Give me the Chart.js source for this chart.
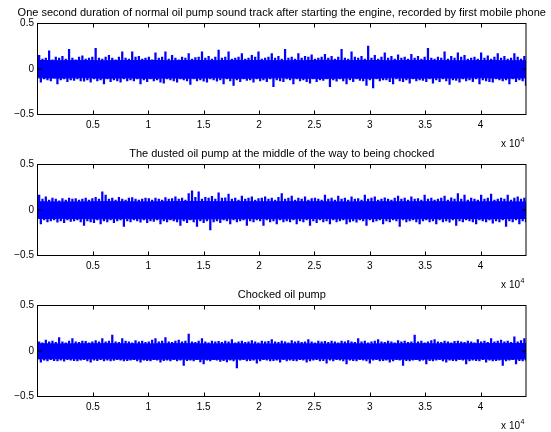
<!DOCTYPE html>
<html><head><meta charset="utf-8">
<script src="https://cdn.jsdelivr.net/npm/chart.js@4.4.0/dist/chart.umd.min.js"></script>
<style>
html,body{margin:0;padding:0;background:#fff;}
#wrap{position:relative;width:551px;height:432px;overflow:hidden;background:#fff;}
.pane{position:absolute;left:0;width:551px;height:150px;}
</style></head><body>
<div id="wrap">
<div class="pane" style="top:0px"><canvas id="c0" width="551" height="150"></canvas></div>
<div class="pane" style="top:141px"><canvas id="c1" width="551" height="150"></canvas></div>
<div class="pane" style="top:282px"><canvas id="c2" width="551" height="150"></canvas></div>
</div>
<script>
const titles = [
  'One second duration of normal oil pump sound track after starting the engine, recorded by first mobile phone',
  'The dusted oil pump at the middle of the way to being chocked',
  'Chocked oil pump'
];
const xTickValues = [5000,10000,15000,20000,25000,30000,35000,40000];
const xTickLabels = ['0.5','1','1.5','2','2.5','3','3.5','4'];
const yTickValues = [-0.5,0,0.5];
const yTickLabels = ['\u22120.5','0','0.5'];
const xExponent = '4';
const nSamples = 44100;

// dense core band envelope, every 2000 samples
const coreX = [0,2000,4000,6000,8000,10000,12000,14000,16000,18000,20000,22000,24000,26000,28000,30000,32000,34000,36000,38000,40000,42000,44000,44100];
const core1Upper = [0.094,0.091,0.093,0.09,0.093,0.095,0.091,0.094,0.092,0.095,0.093,0.09,0.093,0.096,0.092,0.094,0.091,0.095,0.093,0.09,0.093,0.092,0.09,0.093];
const core1Lower = [-0.097,-0.1,-0.096,-0.101,-0.098,-0.102,-0.099,-0.101,-0.097,-0.102,-0.1,-0.097,-0.101,-0.103,-0.099,-0.102,-0.097,-0.101,-0.098,-0.1,-0.097,-0.101,-0.098,-0.102];
const core2Upper = [0.09,0.088,0.089,0.092,0.09,0.089,0.092,0.094,0.091,0.092,0.09,0.091,0.092,0.09,0.089,0.091,0.09,0.09,0.092,0.089,0.09,0.09,0.088,0.089];
const core2Lower = [-0.094,-0.092,-0.095,-0.097,-0.094,-0.096,-0.098,-0.1,-0.097,-0.096,-0.094,-0.097,-0.095,-0.094,-0.097,-0.095,-0.094,-0.096,-0.095,-0.094,-0.096,-0.095,-0.093,-0.094];
const core3Upper = [0.08,0.078,0.079,0.081,0.079,0.078,0.081,0.08,0.078,0.079,0.077,0.078,0.079,0.078,0.08,0.078,0.079,0.081,0.079,0.08,0.081,0.083,0.082,0.083];
const core3Lower = [-0.087,-0.085,-0.087,-0.086,-0.088,-0.09,-0.089,-0.09,-0.091,-0.089,-0.087,-0.088,-0.087,-0.086,-0.088,-0.087,-0.089,-0.09,-0.088,-0.089,-0.087,-0.09,-0.088,-0.089];

// local peak amplitudes, one per 300-sample window (upper peaks start at sample 150, lower at 300)
const peakStep = 300;
const upStart = 150;
const downStart = 300;
const peaks1Up = [
0.15,0.11,0.12,0.20,0.10,0.13,0.12,0.14,0.11,0.215,
0.12,0.10,0.13,0.145,0.11,0.12,0.13,0.226,0.12,0.11,
0.13,0.15,0.12,0.10,0.13,0.189,0.12,0.11,0.189,0.13,
0.14,0.11,0.12,0.13,0.10,0.178,0.12,0.13,0.189,0.11,
0.15,0.12,0.10,0.13,0.12,0.17,0.11,0.125,0.13,0.189,
0.12,0.14,0.11,0.13,0.207,0.12,0.13,0.189,0.11,0.12,
0.13,0.17,0.11,0.12,0.15,0.13,0.189,0.11,0.12,0.13,
0.17,0.12,0.14,0.11,0.215,0.12,0.13,0.11,0.17,0.12,
0.14,0.13,0.155,0.11,0.12,0.13,0.16,0.12,0.14,0.11,
0.13,0.215,0.12,0.11,0.189,0.13,0.12,0.14,0.11,0.252,
0.12,0.15,0.11,0.13,0.178,0.12,0.14,0.11,0.155,0.12,
0.13,0.11,0.16,0.12,0.14,0.11,0.13,0.226,0.12,0.11,
0.13,0.12,0.189,0.11,0.14,0.12,0.178,0.13,0.15,0.11,
0.12,0.13,0.11,0.178,0.12,0.145,0.11,0.13,0.17,0.12,
0.14,0.11,0.12,0.17,0.13,0.11,0.14];
const peaks1Down = [
-0.144,-0.11,-0.12,-0.13,-0.10,-0.163,-0.12,-0.11,-0.14,-0.12,
-0.125,-0.11,-0.13,-0.135,-0.12,-0.144,-0.11,-0.13,-0.12,-0.163,
-0.11,-0.14,-0.12,-0.13,-0.144,-0.11,-0.13,-0.12,-0.13,-0.11,
-0.163,-0.12,-0.14,-0.11,-0.13,-0.12,-0.145,-0.156,-0.11,-0.12,
-0.13,-0.145,-0.11,-0.12,-0.13,-0.17,-0.11,-0.13,-0.12,-0.135,
-0.144,-0.11,-0.12,-0.135,-0.12,-0.163,-0.11,-0.13,-0.181,-0.12,
-0.14,-0.11,-0.125,-0.12,-0.144,-0.11,-0.13,-0.12,-0.14,-0.11,
-0.193,-0.12,-0.13,-0.14,-0.11,-0.12,-0.163,-0.11,-0.13,-0.12,
-0.14,-0.156,-0.11,-0.14,-0.12,-0.125,-0.11,-0.193,-0.12,-0.135,
-0.11,-0.13,-0.163,-0.12,-0.14,-0.11,-0.125,-0.13,-0.181,-0.12,
-0.207,-0.11,-0.13,-0.12,-0.12,-0.14,-0.163,-0.11,-0.13,-0.14,
-0.12,-0.156,-0.11,-0.13,-0.12,-0.125,-0.14,-0.11,-0.156,-0.12,
-0.14,-0.11,-0.13,-0.17,-0.12,-0.125,-0.144,-0.11,-0.13,-0.12,
-0.14,-0.11,-0.163,-0.12,-0.13,-0.14,-0.144,-0.11,-0.12,-0.13,
-0.12,-0.163,-0.11,-0.14,-0.12,-0.13,-0.181];
const peaks2Up = [
0.163,0.12,0.144,0.11,0.13,0.12,0.10,0.125,0.11,0.13,
0.12,0.126,0.11,0.12,0.13,0.11,0.125,0.14,0.12,0.2,
0.163,0.12,0.13,0.11,0.14,0.12,0.11,0.13,0.137,0.12,
0.11,0.12,0.13,0.126,0.11,0.13,0.12,0.11,0.137,0.12,
0.125,0.144,0.12,0.13,0.11,0.181,0.211,0.14,0.2,0.12,
0.14,0.13,0.15,0.12,0.189,0.13,0.135,0.174,0.12,0.13,
0.11,0.152,0.12,0.13,0.144,0.11,0.125,0.13,0.144,0.12,
0.13,0.11,0.14,0.181,0.12,0.13,0.152,0.11,0.13,0.12,
0.144,0.11,0.125,0.13,0.12,0.11,0.163,0.12,0.13,0.11,
0.152,0.12,0.13,0.11,0.144,0.12,0.125,0.11,0.163,0.12,
0.13,0.144,0.11,0.12,0.135,0.12,0.11,0.13,0.152,0.12,
0.13,0.11,0.144,0.12,0.125,0.11,0.163,0.12,0.13,0.11,
0.12,0.13,0.152,0.11,0.135,0.12,0.181,0.12,0.163,0.11,
0.13,0.12,0.11,0.163,0.12,0.13,0.174,0.11,0.12,0.13,
0.12,0.163,0.11,0.13,0.144,0.12,0.13];
const peaks2Down = [
-0.152,-0.11,-0.13,-0.12,-0.11,-0.133,-0.12,-0.14,-0.11,-0.125,
-0.12,-0.11,-0.13,-0.17,-0.12,-0.13,-0.14,-0.11,-0.152,-0.12,
-0.13,-0.11,-0.14,-0.12,-0.11,-0.181,-0.12,-0.13,-0.11,-0.12,
-0.133,-0.11,-0.14,-0.12,-0.125,-0.11,-0.152,-0.12,-0.13,-0.11,
-0.12,-0.13,-0.17,-0.12,-0.14,-0.11,-0.13,-0.181,-0.12,-0.14,
-0.12,-0.219,-0.13,-0.12,-0.14,-0.11,-0.12,-0.152,-0.11,-0.13,
-0.12,-0.11,-0.17,-0.12,-0.13,-0.11,-0.12,-0.17,-0.11,-0.13,
-0.12,-0.152,-0.11,-0.13,-0.12,-0.13,-0.11,-0.152,-0.12,-0.13,
-0.11,-0.17,-0.12,-0.14,-0.11,-0.13,-0.12,-0.152,-0.11,-0.13,
-0.12,-0.11,-0.152,-0.13,-0.12,-0.135,-0.11,-0.12,-0.17,-0.11,
-0.13,-0.12,-0.11,-0.152,-0.12,-0.13,-0.11,-0.12,-0.181,-0.11,
-0.13,-0.12,-0.11,-0.13,-0.152,-0.12,-0.11,-0.13,-0.12,-0.152,
-0.11,-0.13,-0.12,-0.135,-0.11,-0.17,-0.12,-0.13,-0.11,-0.12,
-0.13,-0.152,-0.11,-0.12,-0.13,-0.11,-0.144,-0.12,-0.13,-0.11,
-0.181,-0.12,-0.13,-0.11,-0.152,-0.12,-0.13];
const peaks3Up = [
0.10,0.09,0.119,0.10,0.11,0.095,0.148,0.10,0.09,0.11,
0.137,0.10,0.095,0.11,0.105,0.09,0.10,0.115,0.10,0.137,
0.10,0.11,0.174,0.10,0.095,0.137,0.11,0.10,0.09,0.115,
0.10,0.11,0.095,0.10,0.12,0.137,0.10,0.11,0.148,0.10,
0.095,0.11,0.12,0.10,0.11,0.185,0.10,0.095,0.11,0.137,
0.10,0.09,0.11,0.10,0.105,0.095,0.11,0.10,0.126,0.09,
0.10,0.11,0.095,0.10,0.115,0.10,0.09,0.11,0.10,0.105,
0.126,0.10,0.095,0.11,0.10,0.09,0.115,0.10,0.11,0.095,
0.10,0.126,0.10,0.09,0.11,0.10,0.105,0.095,0.11,0.10,
0.09,0.11,0.10,0.115,0.10,0.095,0.137,0.10,0.11,0.09,
0.10,0.11,0.126,0.10,0.095,0.11,0.10,0.09,0.115,0.10,
0.11,0.095,0.10,0.174,0.10,0.11,0.09,0.10,0.115,0.126,
0.10,0.095,0.11,0.10,0.09,0.105,0.11,0.10,0.095,0.11,
0.10,0.09,0.126,0.10,0.11,0.095,0.137,0.10,0.11,0.12,
0.10,0.11,0.095,0.156,0.10,0.115,0.137];
const peaks3Down = [
-0.122,-0.10,-0.11,-0.095,-0.105,-0.11,-0.10,-0.111,-0.095,-0.10,
-0.105,-0.11,-0.10,-0.095,-0.11,-0.122,-0.10,-0.105,-0.095,-0.11,
-0.10,-0.11,-0.104,-0.095,-0.10,-0.11,-0.105,-0.10,-0.095,-0.11,
-0.122,-0.10,-0.105,-0.11,-0.095,-0.10,-0.122,-0.105,-0.10,-0.11,
-0.095,-0.11,-0.10,-0.159,-0.105,-0.10,-0.11,-0.095,-0.12,-0.141,
-0.10,-0.11,-0.095,-0.10,-0.115,-0.105,-0.12,-0.10,-0.11,-0.185,
-0.10,-0.095,-0.11,-0.105,-0.10,-0.133,-0.11,-0.095,-0.10,-0.11,
-0.105,-0.10,-0.122,-0.095,-0.11,-0.10,-0.105,-0.11,-0.095,-0.10,
-0.122,-0.11,-0.10,-0.095,-0.11,-0.105,-0.133,-0.10,-0.11,-0.095,
-0.10,-0.11,-0.141,-0.10,-0.105,-0.11,-0.095,-0.10,-0.11,-0.133,
-0.10,-0.095,-0.11,-0.105,-0.10,-0.122,-0.11,-0.095,-0.10,-0.159,
-0.105,-0.11,-0.10,-0.095,-0.11,-0.10,-0.141,-0.105,-0.11,-0.10,
-0.095,-0.11,-0.122,-0.10,-0.105,-0.11,-0.095,-0.10,-0.141,-0.11,
-0.10,-0.105,-0.11,-0.095,-0.122,-0.10,-0.11,-0.105,-0.10,-0.159,
-0.11,-0.10,-0.095,-0.141,-0.105,-0.11,-0.10];

const FONT = '"Liberation Sans", Arial, Helvetica, sans-serif';
Chart.defaults.font.family = FONT;
Chart.defaults.color = '#000';
const BLUE = '#0000ff';

const matlabAxes = {
  id: 'matlabAxes',
  afterDraw(chart, args, opts) {
    const {ctx, chartArea: a, scales: {x, y}} = chart;
    ctx.save();
    ctx.strokeStyle = '#000';
    ctx.lineWidth = 1;
    ctx.beginPath();
    xTickValues.forEach(v => {
      const px = Math.round(x.getPixelForValue(v)) + 0.5;
      ctx.moveTo(px, a.bottom); ctx.lineTo(px, a.bottom - 4);
      ctx.moveTo(px, a.top); ctx.lineTo(px, a.top + 4);
    });
    yTickValues.forEach(v => {
      const py = y.getPixelForValue(v);
      ctx.moveTo(a.left, py); ctx.lineTo(a.left + 4, py);
      ctx.moveTo(a.right, py); ctx.lineTo(a.right - 4, py);
    });
    ctx.stroke();
    ctx.strokeRect(a.left, a.top, a.right - a.left, a.bottom - a.top);
    ctx.fillStyle = '#000';
    ctx.font = '11px ' + FONT;
    ctx.textAlign = 'center';
    ctx.textBaseline = 'alphabetic';
    ctx.fillText(opts.title, (a.left + a.right) / 2, a.top - 8);
    ctx.font = '10px ' + FONT;
    ctx.textAlign = 'right';
    ctx.fillText('x 10', a.right - 6, a.bottom + 32);
    ctx.font = '7px ' + FONT;
    ctx.textAlign = 'left';
    ctx.fillText(xExponent, a.right - 5.5, a.bottom + 27);
    ctx.restore();
  }
};

function toPoints(xs, ys) { return xs.map((x, i) => ({x: x, y: ys[i]})); }
function toBars(start, amps) { return amps.map((v, i) => ({x: start + i * peakStep, y: v > 0 ? [0, v] : [v, 0]})); }

function makeChart(id, title, coreUp, coreLo, pkUp, pkDown) {
  const lineDs = (d) => ({type: 'line', data: d, borderColor: BLUE, backgroundColor: BLUE, borderWidth: 1, pointRadius: 0, fill: 'origin', tension: 0});
  const barDs = (d) => ({type: 'bar', data: d, backgroundColor: BLUE, borderWidth: 0, barThickness: 1.6, grouped: false});
  new Chart(document.getElementById(id), {
    type: 'line',
    data: {datasets: [
      lineDs(toPoints(coreX, coreUp)),
      lineDs(toPoints(coreX, coreLo)),
      barDs(toBars(upStart, pkUp)),
      barDs(toBars(downStart, pkDown))
    ]},
    options: {
      responsive: false,
      animation: false,
      events: [],
      layout: {padding: {top: 23.5, right: 25, left: 0, bottom: 0}},
      plugins: {legend: {display: false}, tooltip: {enabled: false}, title: {display: false}, matlabAxes: {title: title}},
      scales: {
        x: {
          type: 'linear', min: 0, max: nSamples, offset: false,
          grid: {display: false, drawTicks: false, offset: false},
          border: {display: false},
          afterBuildTicks: s => { s.ticks = xTickValues.map(v => ({value: v})); },
          afterFit: s => { s.height = 35.5; },
          ticks: {
            callback: v => { const i = xTickValues.indexOf(v); return i >= 0 ? xTickLabels[i] : ''; },
            font: {size: 10}, color: '#000', padding: 5, maxRotation: 0, autoSkip: false
          }
        },
        y: {
          type: 'linear', min: -0.5, max: 0.5,
          grid: {display: false, drawTicks: false},
          border: {display: false},
          afterBuildTicks: s => { s.ticks = yTickValues.map(v => ({value: v})); },
          afterFit: s => { s.width = 37.5; },
          ticks: {
            callback: v => { const i = yTickValues.indexOf(v); return i >= 0 ? yTickLabels[i] : ''; },
            font: {size: 10}, color: '#000', padding: 3.5, autoSkip: false
          }
        }
      }
    },
    plugins: [matlabAxes]
  });
}

makeChart('c0', titles[0], core1Upper, core1Lower, peaks1Up, peaks1Down);
makeChart('c1', titles[1], core2Upper, core2Lower, peaks2Up, peaks2Down);
makeChart('c2', titles[2], core3Upper, core3Lower, peaks3Up, peaks3Down);
</script>
</body></html>
